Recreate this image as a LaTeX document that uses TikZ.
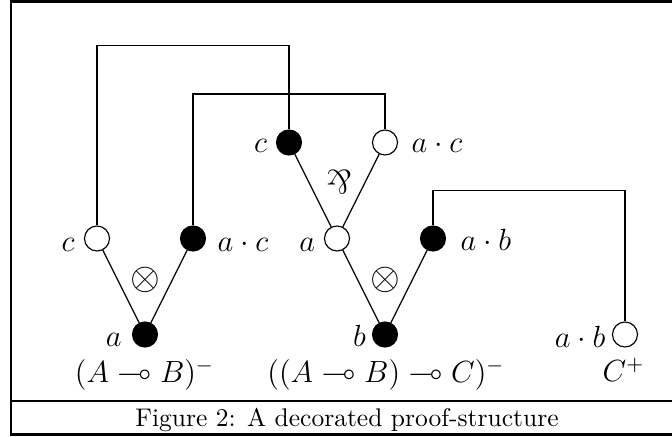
\documentclass[tikz,border=0pt]{standalone}
\usepackage{amssymb}
\usepackage{graphicx}
\begin{document}
\begin{tikzpicture}[x=0.392pt,y=-0.392pt,
  dotbase/.style={circle,draw,line width=0.45pt,minimum size=9.8pt,inner sep=0pt},
  posdot/.style={dotbase,fill=white},
  negdot/.style={dotbase,fill=black},
  lbl/.style={inner sep=0pt,font=\large},
  conn/.style={line width=0.45pt},
  frameline/.style={line width=0.8pt}]
\useasboundingbox (0,0) rectangle (672,437);
% frame
\draw[frameline] (11,1.5) rectangle (683,434.5);
\draw[frameline] (11,401) -- (683,401);
\node[inner sep=0pt,anchor=base] (cap) at (347,426.7) {Figure 2: A decorated proof-structure};
% nodes
\node[posdot] (lc)  at (97,238.5) {};
\node[negdot] (lac) at (193,238.5) {};
\node[negdot] (la)  at (145,334.5) {};
\node[negdot] (pc)  at (289,142.5) {};
\node[posdot] (pac) at (385,142.5) {};
\node[posdot] (pa)  at (337,238.5) {};
\node[negdot] (rab) at (433,238.5) {};
\node[negdot] (rb)  at (385,334.5) {};
\node[posdot] (cab) at (625,334.5) {};
% levels
\coordinate (t1) at (0,45.7);
\coordinate (t2) at (0,94);
\coordinate (t3) at (0,190.7);
% links
\draw[conn] (lc) -- (la);
\draw[conn] (lac) -- (la);
\draw[conn] (pc) -- (pa);
\draw[conn] (pac) -- (pa);
\draw[conn] (pa) -- (rb);
\draw[conn] (rab) -- (rb);
\draw[conn] (lc) -- (lc |- t1) -- (pc |- t1) -- (pc);
\draw[conn] (lac) -- (lac |- t2) -- (pac |- t2) -- (pac);
\draw[conn] (rab) -- (rab |- t3) -- (cab |- t3) -- (cab);
% labels
\node[lbl,anchor=base east] (llc) at (75,251.5) {$c$};
\node[lbl,anchor=base west] (llac) at (217,251.5) {$a\cdot c$};
\node[lbl,anchor=base east] (lla) at (122,347) {$a$};
\node[lbl,anchor=base east] (lpc) at (267.5,153) {$c$};
\node[lbl,anchor=base west] (lpac) at (411,153) {$a\cdot c$};
\node[lbl,anchor=base east] (lpa) at (315.5,251.5) {$a$};
\node[lbl,anchor=base west] (lrab) at (460,251) {$a\cdot b$};
\node[lbl,anchor=base east] (lrb) at (366.5,347) {$b$};
\node[lbl,anchor=base east] (lcab) at (606,348) {$a\cdot b$};
\node[lbl] (par) at (339,182) {\scalebox{1.1}{\rotatebox[origin=c]{180}{\&}}};
\node[lbl] (ot1) at (145,280) {\scalebox{1.25}{$\otimes$}};
\node[lbl] (ot2) at (385,280) {\scalebox{1.25}{$\otimes$}};
\node[lbl,anchor=base] (f1) at (144.5,383) {$(A\multimap B)^-$};
\node[lbl,anchor=base] (f2) at (386,383) {$((A\multimap B)\multimap C)^-$};
\node[lbl,anchor=base] (f3) at (623.5,382) {$C^+$};
\end{tikzpicture}
\end{document}
